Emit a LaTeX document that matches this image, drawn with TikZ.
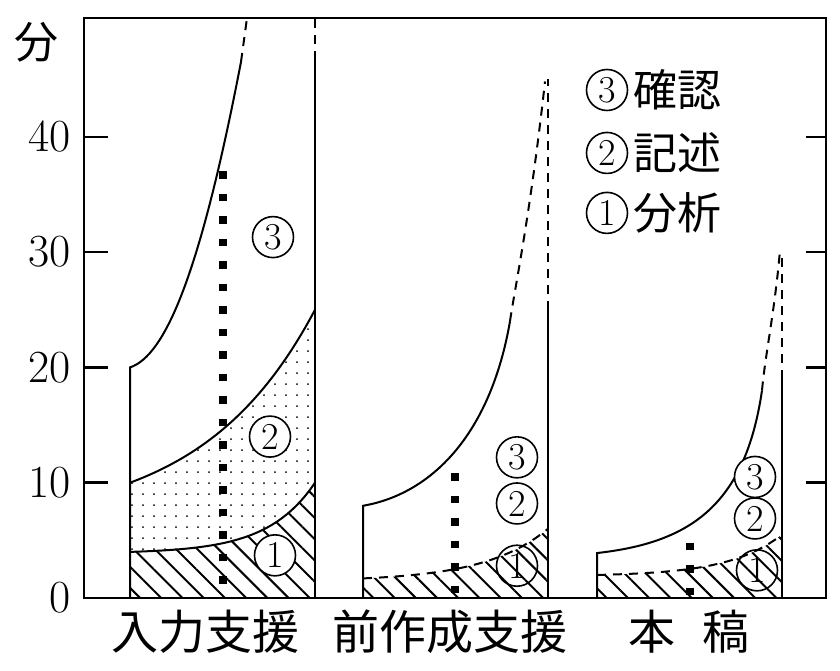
\documentclass[tikz,border=0pt]{standalone}
\usepackage{fontspec}
\newfontfamily\jpfont{Noto Sans CJK JP}
\usetikzlibrary{patterns.meta,positioning}
\tikzset{
  axisline/.style={line width=2.6pt},
  bar/.style={line width=2pt},
  dashbar/.style={line width=2pt,dash pattern=on 9pt off 7pt},
  dotline/.style={line width=7.5pt,dash pattern=on 7.5pt off 15pt},
  hatch/.style={pattern={Lines[angle=-45,distance=15pt,line width=2pt]}},
  dotfill/.style={pattern={Dots[distance=11pt,radius=1pt]}},
  num/.style={circle,draw,line width=1.6pt,fill=white,inner sep=0pt,minimum size=41pt,font=\fontsize{38}{38}\selectfont},
  ticklab/.style={anchor=east,font=\fontsize{46}{46}\selectfont},
  jp/.style={font=\jpfont\fontsize{#1}{#1}\selectfont},
}
\begin{document}
\begin{tikzpicture}[x=1pt,y=11.53pt]
  \useasboundingbox (0,-6.245) rectangle (840,51.865);
  \def\fA{4+6*(exp(3.9*(\x-130)/185)-1)/(exp(3.9)-1)}
  \def\fB{10+15*(exp(1.63*(\x-130)/185)-1)/(exp(1.63)-1)}
  \def\fC{1.7+4.3*(exp(2.9*(\x-363)/185)-1)/(exp(2.9)-1)}
  \def\fD{2+3.5*(exp(3.5*(\x-597)/185)-1)/(exp(3.5)-1)}
  % 入力支援
  \fill[hatch] (130,0) -- plot[domain=130:315,samples=40] (\x,{\fA}) -- (315,0) -- cycle;
  \fill[dotfill] plot[domain=130:315,samples=40] (\x,{\fA}) -- plot[domain=315:130,samples=40] (\x,{\fB}) -- cycle;
  \draw[bar] plot[domain=130:315,samples=40] (\x,{\fA});
  \draw[bar] plot[domain=130:315,samples=40] (\x,{\fB});
  \draw[bar] (130,0) -- (130,20) .. controls (165,21) and (200,28) .. (241,46.5);
  \draw[dashbar] (241,46.5) -- (247,50.3);
  \draw[bar] (315,0) -- (315,46.7);
  \draw[dashbar] (315,46.7) -- (315,50.3);
  \draw[dotline] (223,37) -- (223,0.3);
  \node[num] (a3) at (273,31.3) {3};
  \node[num] (a2) at (270,14) {2};
  \node[num] (a1) at (275,3.7) {1};
  % 前作成支援
  \fill[hatch] (363,0) -- plot[domain=363:548,samples=30] (\x,{\fC}) -- (548,0) -- cycle;
  \draw[dashbar] plot[domain=363:548,samples=30] (\x,{\fC});
  \draw[bar] (363,0) -- (363,8) .. controls (430,9) and (490,14) .. (510,24);
  \draw[dashbar] (510,24) .. controls (514,26.5) and (530,33) .. (545,44.8);
  \draw[bar] (548,0) -- (548,25);
  \draw[dashbar] (548,25) -- (548,45);
  \draw[dotline] (455,10.8) -- (455,0.3);
  \node[num] (b3) at (517,12.2) {3};
  \node[num] (b2) at (517,8.2) {2};
  \node[num,fill=none] (b1) at (517,2.8) {1};
  % 本稿
  \fill[hatch] (597,0) -- plot[domain=597:782,samples=30] (\x,{\fD}) -- (782,0) -- cycle;
  \draw[dashbar] plot[domain=597:782,samples=30] (\x,{\fD});
  \draw[bar] (597,0) -- (597,3.9) .. controls (690,4.8) and (745,8) .. (762,18);
  \draw[dashbar] (762,18) .. controls (765,21) and (775,25) .. (780,30.2);
  \draw[bar] (782,0) -- (782,19);
  \draw[dashbar] (782,19) -- (782,30);
  \draw[dotline] (690,4.8) -- (690,0.3);
  \node[num] (c3) at (755,10.5) {3};
  \node[num] (c2) at (755,6.9) {2};
  \node[num,fill=none] (c1) at (757,2.4) {1};
  % axes
  \draw[axisline] (84,0) rectangle (826,50.3);
  \foreach \v in {10,20,30,40} {
    \draw[axisline] (84,\v) -- (108,\v);
    \draw[axisline] (826,\v) -- (806,\v);
  }
  \foreach \v in {0,10,...,40} \node[ticklab] (y\v) at (74,\v) {\v};
  \node[jp=44] (unit) at (36,48.2) {分};
  % legend
  \node[num] (k3) at (607,44.06) {3};
  \node[jp=44,right=2pt of k3] (k3t) {確認};
  \node[num] (k2) at (607,38.6) {2};
  \node[jp=44,right=2pt of k2] (k2t) {記述};
  \node[num] (k1) at (607,33.4) {1};
  \node[jp=44,right=2pt of k1] (k1t) {分析};
  % labels
  \node[jp=47] (n1) at (205,-2.95) {入力支援};
  \node[jp=47] (n2) at (450,-2.95) {前作成支援};
  \node[jp=47] (n3) at (689,-2.95) {本\hspace{28pt}稿};
\end{tikzpicture}
\end{document}
